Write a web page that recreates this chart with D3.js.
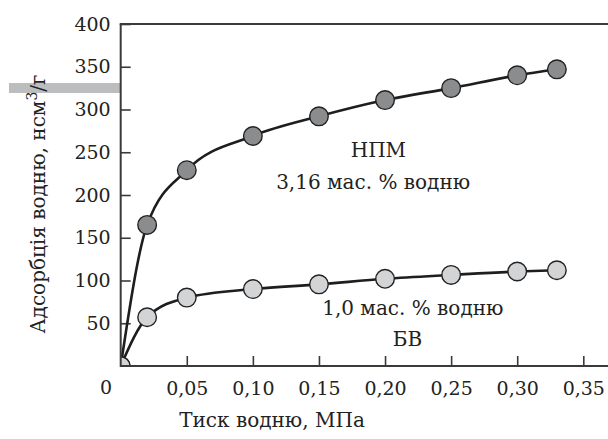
<!DOCTYPE html>
<html><head><meta charset="utf-8">
<script src="https://cdn.jsdelivr.net/npm/d3@7"></script>
<style>
body{margin:0;background:#fff;}
text{font-family:"DejaVu Serif",serif;fill:#222;}
</style></head>
<body><svg id="c" width="608" height="439"></svg>
<script>
const xTicks = [0.05,0.10,0.15,0.20,0.25,0.30,0.35];
const xTickLabels = ["0,05","0,10","0,15","0,20","0,25","0,30","0,35"];
const yTicks = [50,100,150,200,250,300,350,400];
const pressure = [0, 0.02, 0.05, 0.10, 0.15, 0.20, 0.25, 0.30, 0.33];
const npmValues = [0, 165, 229, 269, 292, 311, 325, 340, 347];
const bvValues = [0, 57, 80, 90, 95.5, 102, 106.5, 110.5, 112];
const xTitle = "Тиск водню, МПа";
const yTitle = ["Адсорбція водню, нсм", "3", "/г"];
const labels = [
  {text:"НПМ", x:0.195, y:244},
  {text:"3,16 мас. % водню", x:0.191, y:207},
  {text:"1,0 мас. % водню", x:0.221, y:60},
  {text:"БВ", x:0.217, y:23}
];

const svg = d3.select("#c");
const x = d3.scaleLinear().domain([0,0.35]).range([120.7,583.3]);
const y = d3.scaleLinear().domain([0,400]).range([366,24]);
const axisColor = "#3a3a3a";

// grey bar artifact
svg.append("rect").attr("x",9).attr("y",83).attr("width",111).attr("height",10).attr("fill","#bcbdbf");

// axes
const xAxis = d3.axisBottom(x).tickValues(xTicks).tickSize(-10).tickFormat((d,i)=>xTickLabels[i]).tickPadding(16);
const gx = svg.append("g").attr("transform","translate(0,366)").call(xAxis);
gx.select(".domain").remove();
gx.selectAll("line").attr("stroke",axisColor).attr("stroke-width",1.6);
gx.selectAll("text").attr("font-size",19).attr("font-family","DejaVu Serif").attr("fill","#222");

const yAxis = d3.axisLeft(y).tickValues(yTicks).tickSize(-10).tickPadding(10);
const gy = svg.append("g").attr("transform","translate(120.7,0)").call(yAxis);
gy.select(".domain").remove();
gy.selectAll("line").attr("stroke",axisColor).attr("stroke-width",1.6);
gy.selectAll("text").attr("font-size",19).attr("font-family","DejaVu Serif").attr("fill","#222");

svg.append("text").attr("x",106).attr("y",394).attr("text-anchor","middle").attr("font-size",19).text("0");

// clip for plot area
svg.append("clipPath").attr("id","plot").append("rect").attr("x",120.7).attr("y",0).attr("width",490).attr("height",366);

// curves
const line = d3.line().x((d,i)=>x(pressure[i])).y(d=>y(d)).curve(d3.curveMonotoneX);
[npmValues,bvValues].forEach(vals=>{
  svg.append("path").attr("d",line(vals)).attr("fill","none").attr("stroke","#1e1e1e").attr("stroke-width",2.6).attr("clip-path","url(#plot)");
});

// points
const series = [{vals:npmValues, fill:"#8b8c8e"},{vals:bvValues, fill:"#d3d4d6"}];
series.forEach(s=>{
  svg.append("g").attr("clip-path","url(#plot)").selectAll("circle").data(s.vals).join("circle")
    .attr("cx",(d,i)=>x(pressure[i])).attr("cy",d=>y(d)).attr("r",9.3)
    .attr("fill",s.fill).attr("stroke","#222").attr("stroke-width",1.4);
});

// axis lines on top
svg.append("line").attr("x1",120.7).attr("x2",608).attr("y1",366).attr("y2",366).attr("stroke",axisColor).attr("stroke-width",2);
svg.append("line").attr("x1",120.7).attr("x2",120.7).attr("y1",24).attr("y2",367).attr("stroke",axisColor).attr("stroke-width",2);
svg.append("line").attr("x1",119.7).attr("x2",608).attr("y1",24).attr("y2",24).attr("stroke",axisColor).attr("stroke-width",2);

// annotations
labels.forEach(l=>{
  svg.append("text").attr("x",x(l.x)).attr("y",y(l.y)).attr("text-anchor","middle").attr("font-size",20).text(l.text);
});

// titles
svg.append("text").attr("x",272).attr("y",427).attr("text-anchor","middle").attr("font-size",20).text(xTitle);
const yt = svg.append("text").attr("transform","translate(45,204) rotate(-90)").attr("text-anchor","middle").attr("font-size",20);
yt.append("tspan").text(yTitle[0]);
yt.append("tspan").attr("dy",-8).attr("font-size",14).text(yTitle[1]);
yt.append("tspan").attr("dy",8).text(yTitle[2]);
</script></body></html>
